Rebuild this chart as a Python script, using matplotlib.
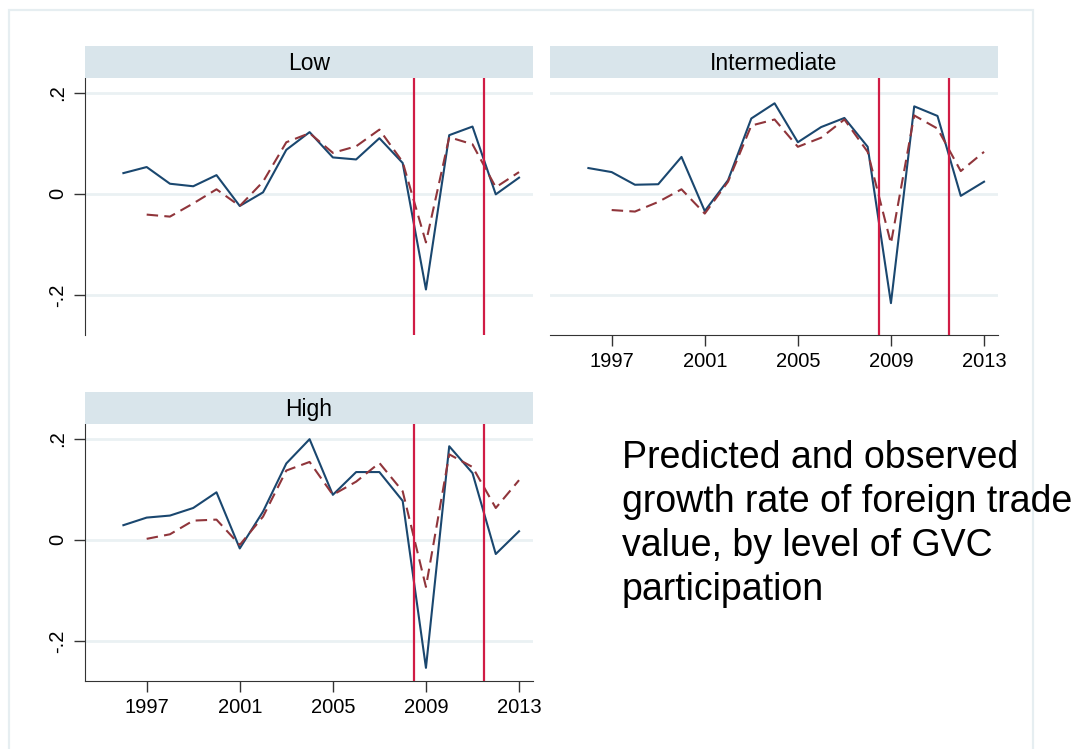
import numpy as np
import matplotlib.pyplot as plt
from matplotlib.patches import Rectangle

plt.rcParams['font.family'] = ['Liberation Sans', 'DejaVu Sans']

years = list(range(1996, 2014))

# observed (solid) and predicted (dashed) growth rates
low_obs = [0.041, 0.053, 0.020, 0.015, 0.037, -0.024, 0.003, 0.087, 0.122, 0.072,
           0.068, 0.110, 0.061, -0.189, 0.116, 0.133, -0.001, 0.032]
low_pred = [np.nan, -0.041, -0.045, -0.019, 0.009, -0.024, 0.024, 0.102, 0.120, 0.081,
            0.094, 0.127, 0.063, -0.096, 0.112, 0.098, 0.013, 0.043]

mid_obs = [0.051, 0.043, 0.018, 0.019, 0.073, -0.034, 0.027, 0.149, 0.179, 0.102,
           0.132, 0.150, 0.093, -0.216, 0.173, 0.154, -0.004, 0.024]
mid_pred = [np.nan, -0.032, -0.035, -0.016, 0.009, -0.039, 0.024, 0.135, 0.147, 0.093,
            0.111, 0.147, 0.083, -0.098, 0.155, 0.129, 0.045, 0.083]

high_obs = [0.029, 0.044, 0.048, 0.063, 0.094, -0.017, 0.056, 0.151, 0.199, 0.089,
            0.134, 0.134, 0.077, -0.253, 0.185, 0.132, -0.028, 0.017]
high_pred = [np.nan, 0.002, 0.011, 0.038, 0.040, -0.010, 0.046, 0.137, 0.154, 0.089,
             0.115, 0.152, 0.096, -0.093, 0.169, 0.144, 0.063, 0.118]

crisis = [2008.5, 2011.5]
xticks = [1997, 2001, 2005, 2009, 2013]
yticks = [-0.2, 0, 0.2]
yticklabels = ['-.2', '0', '.2']

W, H = 1074, 749
fig = plt.figure(figsize=(W / 100, H / 100), dpi=100)

# light outer frame
fig.patches.append(Rectangle((9 / W, -0.05), 1024 / W, 1.05 - 10 / H, transform=fig.transFigure,
                             fill=False, edgecolor='#e6eef1', lw=1.6))

navy = '#1a476f'
maroon = '#90353b'
red = '#d01c45'
strip_col = '#d9e5eb'
grid_col = '#eaf1f3'


def panel(x0, ytop, title, obs, pred, show_x, show_y):
    left = x0 / W
    width = 448 / W
    bottom = 1 - (ytop + 257) / H
    ax = fig.add_axes([left, bottom, width, 257 / H])
    strip = fig.add_axes([left, 1 - ytop / H, width, 32 / H])
    strip.set_facecolor(strip_col)
    strip.set_xticks([]); strip.set_yticks([])
    for s in strip.spines.values():
        s.set_visible(False)
    strip.text(0.5, 0.45, title, ha='center', va='center', fontsize=16.5)

    for y in yticks:
        ax.axhline(y, color=grid_col, lw=2, zorder=0)
    ax.plot(years, obs, color=navy, lw=1.5, zorder=3)
    ax.plot(years, pred, color=maroon, lw=1.5, dashes=(5.5, 3), zorder=3)
    for c in crisis:
        ax.axvline(c, color=red, lw=1.6, zorder=4)

    ax.set_xlim(1994.35, 2013.6)
    ax.set_ylim(-0.279, 0.229)
    for s in ['top', 'right']:
        ax.spines[s].set_visible(False)
    ax.spines['left'].set_visible(show_y)
    ax.spines['bottom'].set_visible(show_x)
    ax.spines['left'].set_color('#333333')
    ax.spines['bottom'].set_color('#333333')

    if show_x:
        ax.set_xticks(xticks)
        ax.set_xticklabels([str(t) for t in xticks], fontsize=14.5)
        ax.tick_params(axis='x', length=8, width=1, color='#333333', pad=4)
    else:
        ax.set_xticks([])
    if show_y:
        ax.set_yticks(yticks)
        ax.set_yticklabels(yticklabels, fontsize=14.5, rotation=90, va='center')
        ax.tick_params(axis='y', length=8, width=1, color='#333333', pad=5)
    else:
        ax.set_yticks([])
    return ax


panel(85, 78, 'Low', low_obs, low_pred, False, True)
panel(550, 78, 'Intermediate', mid_obs, mid_pred, True, False)
panel(85, 424, 'High', high_obs, high_pred, True, True)

fig.text(622 / W, 1 - 440 / H,
         'Predicted and observed\ngrowth rate of foreign trade\nvalue, by level of GVC\nparticipation',
         fontsize=27, va='top', ha='left', linespacing=1.28)

fig.savefig('out.png', dpi=100)
